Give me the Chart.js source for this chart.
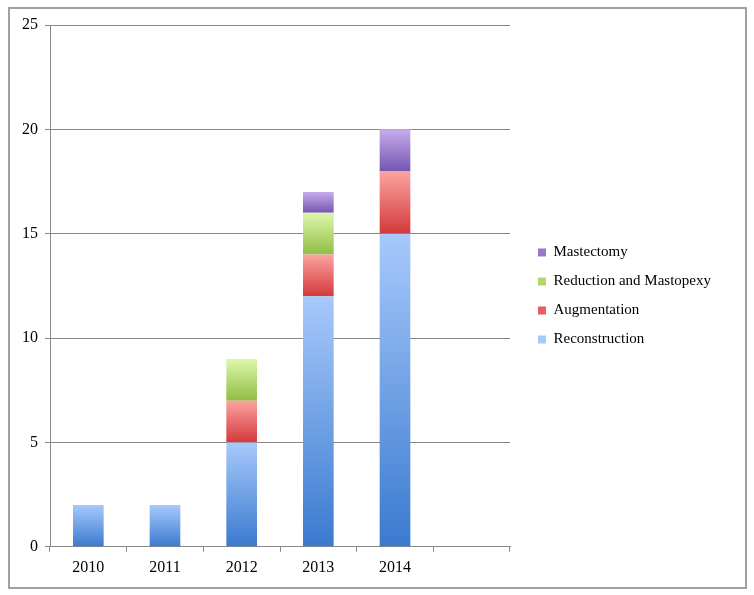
<!DOCTYPE html>
<html lang="en">
<head>
    <meta charset="UTF-8">
    <title>Breast procedures by year</title>
    <script src="https://cdn.jsdelivr.net/npm/chart.js"></script>
    <style>
        body {
            margin: 0;
            background-color: #fff;
        }
    </style>
</head>
<body>
    <canvas id="procChart" width="754" height="595"></canvas>

    <script>
        // categories (last slot is empty in the original)
        const years = ['2010', '2011', '2012', '2013', '2014', ''];

        const reconstruction = [2, 2, 5, 12, 15, null];
        const augmentation = [0, 0, 2, 2, 3, null];
        const reductionMastopexy = [0, 0, 2, 2, 0, null];
        const mastectomy = [0, 0, 0, 1, 2, null];

        const yTicks = [0, 5, 10, 15, 20, 25];

        // [top colour, bottom colour, legend colour]
        const palettes = [
            ['#a7c9fb', '#3a7acf', '#5b93e0'],
            ['#fba4a1', '#d3393a', '#e55d5c'],
            ['#def7ab', '#8fbe45', '#b0d86c'],
            ['#c6aceb', '#7556b0', '#9478cc']
        ];

        const fontFamily = '"Liberation Serif", "DejaVu Serif", serif';
        const legendWidth = 213;
        const legendShift = -8;

        function gradientFill(pal) {
            return function (ctx) {
                const chart = ctx.chart;
                const y = chart.scales.y;
                if (ctx.type !== 'data' || !y || !chart.chartArea) return pal[2];
                const value = ctx.raw || 0;
                let start = 0;
                for (let i = 0; i < ctx.datasetIndex; i++) {
                    start += chart.data.datasets[i].data[ctx.dataIndex] || 0;
                }
                const end = start + value;
                const top = y.getPixelForValue(end);
                const bottom = y.getPixelForValue(start);
                if (!isFinite(top) || !isFinite(bottom) || top === bottom) return pal[2];
                const g = chart.ctx.createLinearGradient(0, top, 0, bottom);
                g.addColorStop(0, pal[0]);
                g.addColorStop(1, pal[1]);
                return g;
            };
        }

        // thin frame around the whole chart, and nudge the legend up a little
        const framePlugin = {
            id: 'frame',
            afterLayout(chart) {
                if (chart.legend) {
                    chart.legend.top += legendShift;
                    chart.legend.bottom += legendShift;
                }
            },
            beforeDraw(chart) {
                const c = chart.ctx;
                c.save();
                c.strokeStyle = '#a0a0a0';
                c.lineWidth = 2;
                c.strokeRect(9, 8, 737, 580);
                c.restore();
            }
        };

        const names = ['Reconstruction', 'Augmentation', 'Reduction and Mastopexy', 'Mastectomy'];
        const series = [reconstruction, augmentation, reductionMastopexy, mastectomy];

        const chart = new Chart(document.getElementById('procChart').getContext('2d'), {
            type: 'bar',
            data: {
                labels: years,
                datasets: series.map((d, i) => ({
                    label: names[i],
                    data: d,
                    backgroundColor: gradientFill(palettes[i]),
                    borderWidth: 0,
                    categoryPercentage: 1,
                    barPercentage: 0.4
                }))
            },
            options: {
                responsive: false,
                animation: false,
                layout: {
                    padding: { left: 15, right: 17, top: 25, bottom: 12 }
                },
                scales: {
                    x: {
                        stacked: true,
                        grid: {
                            drawOnChartArea: false,
                            offset: true,
                            tickLength: 5,
                            color: '#888'
                        },
                        border: { color: '#888', width: 1 },
                        ticks: {
                            color: '#000',
                            font: { family: fontFamily, size: 16 },
                            padding: 6
                        }
                    },
                    y: {
                        stacked: true,
                        min: 0,
                        max: 25,
                        afterBuildTicks(scale) {
                            scale.ticks = yTicks.map(v => ({ value: v }));
                        },
                        grid: {
                            color: '#888',
                            tickLength: 5
                        },
                        border: { color: '#888', width: 1 },
                        ticks: {
                            color: '#000',
                            font: { family: fontFamily, size: 16 },
                            padding: 7
                        }
                    },
                    // empty spacer between plot and legend
                    gap: {
                        type: 'linear',
                        position: 'right',
                        display: true,
                        grid: { display: false },
                        border: { display: false },
                        ticks: { display: false },
                        afterFit(scale) {
                            scale.width = 14;
                        }
                    }
                },
                plugins: {
                    legend: {
                        position: 'right',
                        reverse: true,
                        labels: {
                            boxWidth: 8,
                            boxHeight: 8,
                            padding: 14,
                            color: '#000',
                            font: { family: fontFamily, size: 15 }
                        }
                    },
                    tooltip: { enabled: false }
                }
            },
            plugins: [framePlugin]
        });

        // the layout caps the legend at a quarter of the width; let it have the room it needs
        const origFit = chart.legend.fit;
        chart.legend.fit = function () {
            origFit.call(this);
            this.width = legendWidth;
        };
        chart.update();
    </script>
</body>
</html>
